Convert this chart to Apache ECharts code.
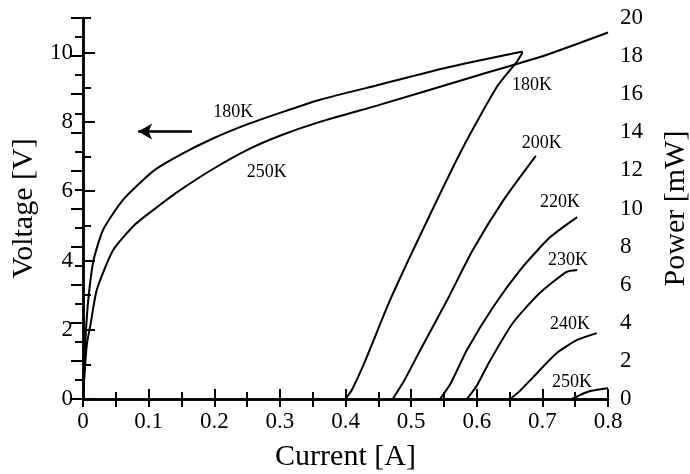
<!DOCTYPE html>
<html>
<head>
<meta charset="utf-8">
<script src="https://cdn.jsdelivr.net/npm/echarts@6/dist/echarts.min.js"></script>
<style>
  html, body { margin: 0; padding: 0; background: #fff; }
  #chart { width: 690px; height: 474px; }
</style>
</head>
<body>
<div id="chart"></div>
<script>
// voltage curves (left axis, V)
var v180X = [0, 0.002, 0.004, 0.008, 0.016, 0.031, 0.061, 0.107, 0.148, 0.198, 0.249, 0.30, 0.361, 0.453, 0.555, 0.67];
var v180Y = [0, 0.8, 1.8, 2.86, 4.0, 4.9, 5.75, 6.58, 7.05, 7.52, 7.92, 8.26, 8.64, 9.08, 9.57, 10.03];
var v250X = [0, 0.003, 0.006, 0.011, 0.021, 0.046, 0.08, 0.117, 0.148, 0.198, 0.249, 0.30, 0.361, 0.453, 0.605, 0.707, 0.8];
var v250Y = [0, 0.9, 1.6, 2.1, 3.15, 4.3, 5.05, 5.6, 6.03, 6.64, 7.18, 7.6, 8.0, 8.5, 9.36, 9.94, 10.58];

// power curves (right axis, mW)
var p180X = [0.40, 0.41, 0.43, 0.468, 0.518, 0.579, 0.631, 0.661, 0.67];
var p180Y = [0, 0.5, 2.0, 5.2, 8.9, 13.2, 16.4, 17.7, 18.2];
var p200X = [0.472, 0.49, 0.514, 0.555, 0.594, 0.64, 0.69];
var p200Y = [0, 1.0, 2.57, 5.2, 7.82, 10.4, 12.76];
var p220X = [0.544, 0.56, 0.585, 0.625, 0.67, 0.712, 0.753];
var p220Y = [0, 0.8, 2.57, 4.83, 6.93, 8.5, 9.55];
var p230X = [0.585, 0.60, 0.62, 0.655, 0.696, 0.737, 0.753];
var p230Y = [0, 0.7, 2.0, 3.99, 5.56, 6.67, 6.77];
var p240X = [0.651, 0.665, 0.686, 0.722, 0.753, 0.783];
var p240Y = [0, 0.4, 1.15, 2.41, 3.1, 3.46];
var p250X = [0.745, 0.76, 0.773, 0.79, 0.8];
var p250Y = [0, 0.25, 0.42, 0.52, 0.56];

// in-plot labels
var vLabelNames = ['180K', '250K'];
var vLabelX = [0.229, 0.28];
var vLabelY = [8.29, 6.56];
var pLabelNames = ['180K', '200K', '220K', '230K', '240K', '250K'];
var pLabelX = [0.684, 0.699, 0.727, 0.739, 0.742, 0.745];
var pLabelY = [16.48, 13.44, 10.34, 7.3, 3.94, 0.89];

// arrow pointing at the voltage axis
var arrowX = [0.166, 0.084];
var arrowY = 7.72;

var font = 'Liberation Serif, Times New Roman, serif';

function pairs(xs, ys) {
    return xs.map(function (x, i) { return [x, ys[i]]; });
}

function curve(xs, ys, yIdx) {
    return {
        type: 'line',
        yAxisIndex: yIdx,
        data: pairs(xs, ys),
        showSymbol: false,
        smooth: 0.2,
        lineStyle: { color: '#000', width: 2 },
        silent: true
    };
}

function labels(names, xs, ys, yIdx) {
    return {
        type: 'scatter',
        yAxisIndex: yIdx,
        symbolSize: 0,
        silent: true,
        itemStyle: { opacity: 1 },
        data: names.map(function (n, i) { return { name: n, value: [xs[i], ys[i]] }; }),
        label: {
            show: true,
            position: 'inside',
            formatter: '{b}',
            color: '#000',
            fontFamily: font,
            fontSize: 18
        }
    };
}

var tickLabel = { color: '#000', fontFamily: font, fontSize: 23 };
var nameStyle = { color: '#000', fontFamily: font, fontSize: 30 };
var line = { show: true, lineStyle: { color: '#000', width: 2.5 } };

var chart = echarts.init(document.getElementById('chart'));
var option = {
    animation: false,
    backgroundColor: '#fff',
    grid: { left: 83, right: 82, top: 18, bottom: 75, containLabel: false, outerBoundsMode: 'none' },
    xAxis: [{
        type: 'value', min: 0, max: 0.8, interval: 0.1,
        name: 'Current [A]', nameLocation: 'middle', nameGap: 43, nameTextStyle: nameStyle,
        axisLine: line,
        axisTick: { inside: true, length: 10, lineStyle: { color: '#000', width: 2 } },
        minorTick: { show: true, splitNumber: 2, length: 7, lineStyle: { color: '#000', width: 2 } },
        axisLabel: Object.assign({ margin: 11 }, tickLabel),
        splitLine: { show: false }
    }, {
        type: 'value', min: 0, max: 0.8, interval: 0.05, position: 'top',
        axisLine: line,
        axisTick: { inside: true, length: 8, lineStyle: { color: '#000', width: 2 } },
        axisLabel: { show: false },
        splitLine: { show: false }
    }],
    yAxis: [{
        type: 'value', min: 0, max: 11, interval: 2, position: 'left',
        name: 'Voltage [V]', nameLocation: 'middle', nameGap: 44, nameTextStyle: nameStyle,
        axisLine: line,
        axisTick: { inside: true, length: 12, lineStyle: { color: '#000', width: 2 } },
        axisLabel: Object.assign({ margin: 10, showMaxLabel: false }, tickLabel),
        splitLine: { show: false }
    }, {
        type: 'value', min: 0, max: 20, interval: 2, position: 'right',
        name: 'Power [mW]', nameLocation: 'middle', nameGap: 53, nameTextStyle: nameStyle,
        axisLine: line,
        axisTick: { inside: true, length: 12, lineStyle: { color: '#000', width: 2 } },
        minorTick: { show: true, splitNumber: 2, length: 8, lineStyle: { color: '#000', width: 2 } },
        axisLabel: Object.assign({ margin: 12 }, tickLabel),
        splitLine: { show: false }
    }, {
        // minor ticks of the voltage axis
        type: 'value', min: 0, max: 11, interval: 1, position: 'left',
        axisLine: { show: false },
        axisTick: { inside: true, length: 8, lineStyle: { color: '#000', width: 2 } },
        axisLabel: { show: false },
        splitLine: { show: false }
    }],
    series: [
        curve(v180X, v180Y, 0),
        curve(v250X, v250Y, 0),
        curve(p180X, p180Y, 1),
        curve(p200X, p200Y, 1),
        curve(p220X, p220Y, 1),
        curve(p230X, p230Y, 1),
        curve(p240X, p240Y, 1),
        curve(p250X, p250Y, 1),
        labels(vLabelNames, vLabelX, vLabelY, 0),
        labels(pLabelNames, pLabelX, pLabelY, 1),
        {
            type: 'line',
            yAxisIndex: 0,
            data: [],
            silent: true,
            markLine: {
                silent: true,
                symbol: ['none', 'arrow'],
                symbolSize: [12, 14],
                label: { show: false },
                lineStyle: { color: '#000', width: 2.5, type: 'solid' },
                data: [[{ coord: [arrowX[0], arrowY] }, { coord: [arrowX[1], arrowY] }]]
            }
        }
    ]
};
chart.setOption(option);
</script>
</body>
</html>
